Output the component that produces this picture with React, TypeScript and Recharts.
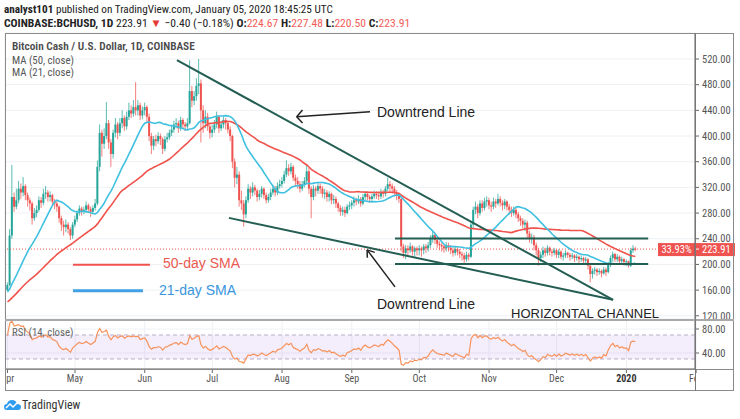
import React from "react";
import {
  ComposedChart,
  Bar,
  Line,
  XAxis,
  YAxis,
  CartesianGrid,
  ReferenceLine,
  ReferenceArea,
} from "recharts";

// COINBASE:BCHUSD daily, day 0 = 2019-04-01
// closes of Feb 11 – Mar 31 2019 (off-screen, only feed the MA / RSI warm-up)
const priorCloses = [
  120, 122, 121, 124, 123, 125, 128, 135, 140, 138, 136, 132, 130, 128, 135,
  132, 130, 131, 133, 132, 134, 133, 131, 130, 132, 134, 135, 133, 136, 140,
  142, 150, 155, 160, 162, 158, 156, 160, 158, 162, 158, 155, 154, 156, 160,
  162, 160, 162, 160,
];

// [close, high, low] per day
const apr19 = [
  [168, 172, 158], [245, 255, 166], [305, 355, 240], [290, 312, 282], [300, 318, 286],
  [318, 330, 295], [312, 326, 302], [322, 336, 306], [308, 325, 300], [300, 312, 290],
  [295, 304, 284], [272, 298, 262], [280, 288, 268], [285, 292, 274], [300, 306, 282],
  [296, 305, 288], [310, 318, 292], [312, 322, 302], [305, 316, 298], [308, 314, 298],
  [298, 310, 292], [295, 302, 286], [290, 300, 282], [272, 292, 265], [262, 276, 252],
  [258, 268, 245], [262, 270, 250], [255, 266, 248], [245, 258, 238], [262, 266, 240],
];
const may19 = [
  [270, 276, 258], [280, 284, 266], [287, 292, 276], [282, 290, 276], [285, 290, 278],
  [292, 298, 280], [286, 295, 280], [282, 290, 274], [288, 292, 278], [295, 302, 284],
  [352, 362, 292], [405, 418, 345], [388, 410, 368], [400, 412, 380], [420, 453, 395],
  [390, 425, 380], [372, 395, 352], [405, 410, 365], [418, 428, 398], [405, 422, 395],
  [420, 428, 400], [428, 440, 412], [415, 432, 408], [430, 438, 410], [440, 452, 425],
  [435, 448, 428], [445, 456, 430], [440, 484, 432], [448, 456, 432], [432, 452, 425],
  [440, 446, 426],
];
const jun19 = [
  [445, 452, 432], [430, 448, 422], [400, 435, 392], [385, 405, 372], [395, 400, 378],
  [392, 402, 384], [400, 406, 388], [395, 404, 386], [380, 398, 372], [395, 400, 376],
  [398, 405, 390], [405, 410, 394], [410, 416, 400], [418, 424, 405], [420, 428, 412],
  [412, 424, 405], [425, 430, 408], [418, 428, 412], [415, 422, 408], [420, 428, 410],
  [470, 518, 418], [455, 478, 445], [462, 470, 448], [478, 490, 455], [482, 520, 465],
  [440, 488, 390], [420, 448, 405], [430, 440, 412], [415, 436, 408], [405, 420, 396],
];
const jul19 = [
  [410, 418, 398], [418, 425, 405], [430, 438, 412], [412, 432, 405], [418, 424, 408],
  [425, 430, 412], [420, 428, 410], [410, 424, 404], [400, 415, 392], [360, 402, 350],
  [335, 365, 320], [340, 352, 325], [300, 345, 290], [295, 315, 285], [278, 300, 259],
  [300, 306, 272], [318, 325, 296], [312, 322, 302], [320, 328, 306], [315, 324, 308],
  [305, 318, 298], [310, 316, 300], [318, 322, 304], [308, 320, 302], [300, 312, 295],
  [305, 310, 296], [312, 318, 300], [318, 324, 308], [312, 322, 306], [322, 328, 308],
  [325, 332, 318],
];
const aug19 = [
  [330, 336, 320], [340, 346, 326], [350, 362, 336], [345, 356, 338], [352, 358, 340],
  [335, 355, 330], [330, 340, 322], [325, 336, 318], [318, 330, 312], [325, 330, 314],
  [330, 336, 320], [345, 355, 326], [318, 350, 310], [305, 322, 272], [318, 324, 300],
  [315, 322, 306], [322, 328, 310], [318, 326, 310], [310, 322, 304], [312, 318, 302],
  [305, 316, 298], [310, 314, 298], [300, 312, 294], [302, 308, 294], [295, 306, 288],
  [288, 298, 282], [282, 292, 276], [285, 290, 276], [280, 290, 274], [290, 294, 278],
  [292, 298, 285],
];
const sep19 = [
  [296, 300, 286], [300, 306, 290], [298, 304, 292], [302, 308, 294], [295, 305, 290],
  [305, 310, 292], [310, 314, 300], [305, 314, 300], [302, 308, 296], [306, 310, 298],
  [310, 315, 302], [308, 314, 302], [306, 312, 300], [312, 318, 302], [310, 316, 304],
  [318, 322, 306], [325, 335, 314], [322, 330, 312], [318, 326, 310], [312, 322, 306],
  [308, 316, 300], [302, 312, 296], [228, 304, 220], [218, 232, 210], [225, 230, 208],
  [222, 230, 214], [228, 234, 218], [220, 230, 214], [225, 228, 212], [222, 228, 214],
];
const oct19 = [
  [225, 230, 214], [222, 228, 212], [228, 232, 216], [225, 232, 218], [230, 235, 220],
  [240, 245, 226], [246, 252, 234], [238, 250, 232], [232, 242, 226], [230, 236, 222],
  [228, 234, 220], [225, 232, 218], [230, 235, 220], [226, 234, 220], [222, 230, 216],
  [218, 226, 212], [224, 228, 214], [220, 228, 214], [216, 224, 210], [214, 220, 206],
  [208, 218, 202], [215, 220, 204], [212, 218, 206], [262, 268, 210], [285, 290, 255],
  [290, 298, 278], [280, 294, 272], [295, 300, 276], [288, 300, 282], [298, 304, 284],
  [300, 306, 290],
];
const nov19 = [
  [292, 304, 286], [290, 298, 282], [298, 304, 286], [295, 302, 288], [302, 310, 292],
  [296, 306, 290], [292, 300, 284], [298, 302, 286], [290, 300, 284], [285, 294, 278],
  [280, 290, 274], [285, 290, 276], [278, 288, 272], [272, 282, 266], [268, 276, 260],
  [262, 272, 256], [265, 270, 252], [248, 268, 240], [240, 252, 234], [242, 248, 232],
  [230, 246, 222], [222, 234, 214], [210, 226, 198], [215, 220, 204], [222, 228, 210],
  [218, 226, 212], [226, 230, 214], [220, 228, 214], [218, 224, 212], [222, 226, 214],
];
const dec19 = [
  [215, 224, 210], [220, 224, 210], [212, 222, 208], [214, 218, 206], [218, 222, 210],
  [215, 220, 210], [212, 218, 206], [214, 218, 208], [210, 216, 204], [212, 216, 206],
  [208, 214, 202], [210, 214, 204], [206, 212, 200], [208, 212, 200], [198, 210, 192],
  [185, 200, 172], [190, 194, 178], [192, 196, 184], [188, 194, 182], [190, 194, 184],
  [186, 192, 180], [192, 196, 184], [188, 195, 182], [200, 204, 186], [210, 214, 196],
  [216, 220, 204], [208, 218, 204], [212, 216, 204], [205, 214, 200], [208, 212, 200],
  [204, 210, 198],
];
const jan20 = [
  [205, 208, 198], [198, 206, 195], [222, 226, 196], [224.67, 230, 218], [223.91, 227.48, 220.5],
];

const monthTicks = [0, 30, 61, 91, 122, 153, 183, 214, 244, 275, 306];
const monthLabels = ["Apr", "May", "Jun", "Jul", "Aug", "Sep", "Oct", "Nov", "Dec", "2020", "Feb"];
const priceTicks = [120, 160, 200, 240, 280, 320, 360, 400, 440, 480, 520];
const rsiTicks = [40, 80];

// drawings on the chart, in (day, price)
const upperTrend = [{ x: 75.3, y: 518.4 }, { x: 269.1, y: 144.9 }];
const lowerTrend = [{ x: 98.4, y: 272.5 }, { x: 269.1, y: 144.9 }];
const channelTop = [{ x: 172.2, y: 240.5 }, { x: 284.7, y: 240.5 }];
const channelBottom = [{ x: 172.2, y: 200.5 }, { x: 284.7, y: 200.5 }];
const arrowTop = [
  [{ x: 161.1, y: 438 }, { x: 128.5, y: 430.2 }],
  [{ x: 131.1, y: 440.6 }, { x: 128.5, y: 430.2 }],
  [{ x: 131.1, y: 420.4 }, { x: 128.5, y: 430.2 }],
];
const arrowBottom = [
  [{ x: 172.2, y: 165.1 }, { x: 159.8, y: 222.7 }],
  [{ x: 159.9, y: 210.3 }, { x: 159.8, y: 222.7 }],
  [{ x: 163.2, y: 218.8 }, { x: 159.8, y: 222.7 }],
];
const sma50Key = [{ x: 29.1, y: 199.4 }, { x: 63.3, y: 199.4 }];
const sma21Key = [{ x: 29.1, y: 158.9 }, { x: 60.2, y: 158.9 }];

const GREEN = "#26a69a";
const RED = "#ef5350";
const MA50 = "#f0524c";
const MA21 = "#3fc0e0";
const DRAW = "#245e53";
const NARROW = "'Liberation Sans Narrow', 'Arial Narrow', 'Roboto Condensed', Roboto, sans-serif";
const SANS = "'Liberation Sans', Arial, sans-serif";

const daily = [...apr19, ...may19, ...jun19, ...jul19, ...aug19, ...sep19, ...oct19, ...nov19, ...dec19, ...jan20];
const closes = daily.map((r) => r[0]);
const all = [...priorCloses, ...closes];
const P = priorCloses.length;

const sma = (n: number, i: number) => {
  const s = all.slice(i + P - n + 1, i + P + 1);
  return s.reduce((a, b) => a + b, 0) / s.length;
};

// Wilder RSI(14) over the whole close series
const rsiAll: number[] = [];
{
  let g = 0;
  let l = 0;
  for (let i = 1; i < all.length; i++) {
    const ch = all[i] - all[i - 1];
    const up = Math.max(ch, 0);
    const dn = Math.max(-ch, 0);
    if (i <= 14) {
      g += up / 14;
      l += dn / 14;
    } else {
      g = (g * 13 + up) / 14;
      l = (l * 13 + dn) / 14;
    }
    rsiAll[i] = i >= 14 ? (l === 0 ? 100 : 100 - 100 / (1 + g / l)) : NaN;
  }
}

const rows = daily.map(([c, h, l], i) => {
  const o = i === 0 ? priorCloses[P - 1] : closes[i - 1];
  const high = Math.max(h, o, c);
  const low = Math.min(l, o, c);
  return {
    d: i,
    open: o,
    close: c,
    high,
    low,
    range: [low, high],
    ma50: sma(50, i),
    ma21: sma(21, i),
    rsi: rsiAll[i + P],
  };
});
const last = closes[closes.length - 1];

function Candle(props: any) {
  const { x, y, width, height, payload } = props;
  if (!payload || height == null) return null;
  const { open, close, high, low } = payload;
  const top = Math.min(y, y + height);
  const h = Math.abs(height);
  const span = high - low || 1;
  const py = (v: number) => top + ((high - v) / span) * h;
  const color = close >= open ? GREEN : RED;
  const cx = x + width / 2;
  const b1 = py(Math.max(open, close));
  const b2 = py(Math.min(open, close));
  return (
    <g>
      <line x1={cx} x2={cx} y1={top} y2={top + h} stroke={color} strokeOpacity={0.75} strokeWidth={1} />
      <rect x={cx - 1} y={b1} width={2} height={Math.max(1, b2 - b1)} fill={color} />
    </g>
  );
}

function PriceTag(props: any) {
  const vb = props.viewBox;
  if (!vb) return null;
  const y = vb.y;
  const right = vb.x + vb.width;
  return (
    <g fontFamily={NARROW} fontSize={10.5}>
      <rect x={right - 37} y={y - 6} width={37} height={13} fill={RED} />
      <text x={right - 18.5} y={y + 0.5} dy="0.35em" textAnchor="middle" fill="#fff">
        33.93%
      </text>
      <rect x={right} y={y - 6} width={40} height={13} fill={RED} />
      <line x1={right} x2={right + 4} y1={y} y2={y} stroke="#fff" />
      <text x={right + 7} y={y + 0.5} dy="0.35em" fill="#fff">
        {last.toFixed(2)}
      </text>
    </g>
  );
}

function DateTick(props: any) {
  const { x, y, payload } = props;
  const label = monthLabels[monthTicks.indexOf(payload.value)];
  return (
    <text
      x={x}
      y={y}
      dy="0.71em"
      textAnchor="middle"
      fontSize={10}
      fontFamily={NARROW}
      fill={label === "2020" ? "#333" : "#555"}
      fontWeight={label === "2020" ? 700 : 400}
      clipPath="url(#dateClip)"
    >
      {label}
    </text>
  );
}

const txt = (left: number, top: number, extra: React.CSSProperties = {}): React.CSSProperties => ({
  position: "absolute",
  left,
  top,
  transform: "translateY(-50%)",
  whiteSpace: "nowrap",
  lineHeight: 1,
  ...extra,
});

const xDomain: [number, number] = [-1.1, 305.5];

export default function App() {
  const seg = (s: { x: number; y: number }[], color: string, w: number, key: string) => (
    <ReferenceLine key={key} segment={s} stroke={color} strokeWidth={w} ifOverflow="visible" />
  );
  return (
    <div
      style={{
        position: "absolute",
        left: 0,
        top: 0,
        width: 740,
        height: 419,
        background: "#fff",
        overflow: "hidden",
        fontFamily: NARROW,
        color: "#222",
      }}
    >
      {/* header */}
      <div style={txt(4, 10, { fontSize: 11.2 })}>
        <b>analyst101</b> published on TradingView.com, January 05, 2020 18:45:25 UTC
      </div>
      <div style={txt(4, 24, { fontSize: 11.6 })}>
        <b>COINBASE:BCHUSD, 1D</b> 223.91 <span style={{ color: "#e53935" }}>▼</span> −0.40 (−0.18%){" "}
        <b>O:</b>
        <span style={{ color: "#f25c57" }}>224.67</span> <b>H:</b>
        <span style={{ color: "#f25c57" }}>227.48</span> <b>L:</b>
        <span style={{ color: "#f25c57" }}>220.50</span> <b>C:</b>
        <span style={{ color: "#f25c57" }}>223.91</span>
      </div>

      {/* price pane */}
      <div style={{ position: "absolute", left: 0, top: 0 }}>
        <ComposedChart width={740} height={326} data={rows} margin={{ top: 33, right: 7, bottom: 7, left: 5 }}>
          <CartesianGrid stroke="#edf1f5" />
          <XAxis
            dataKey="d"
            type="number"
            scale="linear"
            domain={xDomain}
            ticks={monthTicks}
            interval={0}
            tick={false}
            tickLine={false}
            axisLine={false}
            height={0}
            allowDataOverflow
          />
          <YAxis
            orientation="right"
            width={38}
            domain={[115, 560.5]}
            ticks={priceTicks}
            interval={0}
            allowDataOverflow
            tickSize={4}
            tickMargin={3}
            stroke="#666"
            tick={{ fontSize: 10.5, fill: "#555", fontFamily: NARROW }}
            tickFormatter={(v: number) => v.toFixed(2)}
          />
          <ReferenceLine y={last} stroke={RED} strokeDasharray="1 2" label={<PriceTag />} />
          <Bar dataKey="range" shape={(p: any) => <Candle {...p} />} barSize={2} isAnimationActive={false} />
          <Line dataKey="ma50" stroke={MA50} strokeWidth={1.6} dot={false} isAnimationActive={false} />
          <Line dataKey="ma21" stroke={MA21} strokeWidth={1.6} dot={false} isAnimationActive={false} />
          {seg(upperTrend, DRAW, 2, "ut")}
          {seg(lowerTrend, DRAW, 2, "lt")}
          {seg(channelTop, DRAW, 2, "ct")}
          {seg(channelBottom, DRAW, 2, "cb")}
          {arrowTop.map((s, i) => seg(s, "#222", 1.5, "at" + i))}
          {arrowBottom.map((s, i) => seg(s, "#222", 1.5, "ab" + i))}
          {seg(sma50Key, MA50, 2, "k50")}
          {seg(sma21Key, "#40a0e6", 3, "k21")}
        </ComposedChart>
      </div>

      {/* RSI pane */}
      <div style={{ position: "absolute", left: 0, top: 319 }}>
        <ComposedChart width={740} height={72} data={rows} margin={{ top: 1, right: 7, bottom: 2, left: 5 }}>
          <defs>
            <clipPath id="dateClip">
              <rect x={5} y={0} width={690} height={72} />
            </clipPath>
          </defs>
          <CartesianGrid stroke="#edf1f5" />
          <ReferenceArea y1={30} y2={70} fill="#a673e6" fillOpacity={0.13} stroke="none" />
          <ReferenceLine y={70} stroke="#b9adc6" strokeDasharray="4 3" />
          <ReferenceLine y={30} stroke="#b9adc6" strokeDasharray="4 3" />
          <XAxis
            dataKey="d"
            type="number"
            scale="linear"
            domain={xDomain}
            ticks={monthTicks}
            interval={0}
            height={20}
            tickSize={4}
            tickMargin={2}
            stroke="#666"
            tick={<DateTick />}
            allowDataOverflow
          />
          <YAxis
            orientation="right"
            width={38}
            domain={[13.3, 95]}
            ticks={rsiTicks}
            interval={0}
            allowDataOverflow
            tickSize={4}
            tickMargin={3}
            stroke="#666"
            tick={{ fontSize: 10.5, fill: "#555", fontFamily: NARROW }}
            tickFormatter={(v: number) => v.toFixed(2)}
          />
          <Line dataKey="rsi" stroke="#f7925a" strokeWidth={1.2} dot={false} isAnimationActive={false} />
        </ComposedChart>
      </div>

      {/* frame */}
      <div
        style={{
          position: "absolute",
          left: 5,
          top: 33,
          width: 729,
          height: 358,
          border: "1px solid #8a8a8a",
          boxSizing: "border-box",
          pointerEvents: "none",
        }}
      />
      <div style={{ position: "absolute", left: 5, top: 318.5, width: 729, height: 2, background: "#a9a9a9" }} />
      <div style={{ position: "absolute", left: 5, top: 369, width: 729, height: 1, background: "#8a8a8a" }} />
      <div style={{ position: "absolute", left: 695, top: 33, width: 1, height: 358, background: "#777" }} />

      {/* pane legends */}
      <div style={txt(12, 47, { fontSize: 11.3, color: "#4a4a4a", fontWeight: 600 })}>
        Bitcoin Cash / U.S. Dollar, 1D, COINBASE
      </div>
      <div style={txt(12, 61, { fontSize: 10.8, color: "#555" })}>MA (50, close)</div>
      <div style={txt(12, 73, { fontSize: 10.8, color: "#555" })}>MA (21, close)</div>
      <div style={txt(12, 333, { fontSize: 10.8, color: "#666" })}>RSI (14, close)</div>

      {/* annotations */}
      <div style={txt(377, 112, { fontSize: 14, fontFamily: SANS, color: "#222" })}>Downtrend Line</div>
      <div style={txt(377, 304, { fontSize: 14, fontFamily: SANS, color: "#222" })}>Downtrend Line</div>
      <div style={txt(511, 313, { fontSize: 13, fontFamily: SANS, color: "#222" })}>HORIZONTAL CHANNEL</div>
      <div style={txt(163, 263, { fontSize: 14, fontFamily: SANS, color: "#ea5a52" })}>50-day SMA</div>
      <div style={txt(159, 290, { fontSize: 14, fontFamily: SANS, color: "#3a95dd" })}>21-day SMA</div>

      {/* footer logo */}
      <svg style={{ position: "absolute", left: 4, top: 399 }} width={17} height={12}>
        <path d="M3 11 Q0 11 0 8 Q0 5 3 5 Q4 1 8 1 Q12 1 13 5 Q17 5 17 8 Q17 11 14 11 Z" fill="#2d9bf0" />
        <path d="M2 9 L6 5 L9 8 L14 3" stroke="#fff" strokeWidth={1.5} fill="none" />
      </svg>
      <div style={txt(22, 405, { fontSize: 12, color: "#333" })}>TradingView</div>
    </div>
  );
}
